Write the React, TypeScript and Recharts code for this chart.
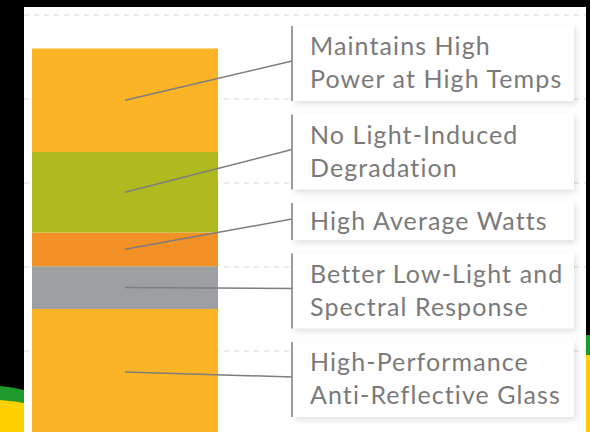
import { Bar, BarChart, CartesianGrid, XAxis, YAxis } from "recharts";

// bottom layer first (stack order)
const categories = ["Module"];
const layerKeys = ["glass", "spectral", "watts", "lid", "temps"];
const layerValues = [1.5, 0.51, 0.4, 0.96, 1.23];
const layerColors = ["#FBB425", "#9D9FA2", "#F29226", "#AEBA20", "#FBB425"];
const layerLabels = [
  ["High-Performance", "Anti-Reflective Glass"],
  ["Better Low-Light and", "Spectral Response"],
  ["High Average Watts"],
  ["No Light-Induced", "Degradation"],
  ["Maintains High", "Power at High Temps"],
];
const yTicks = [0, 1, 2, 3, 4, 5];

const data = categories.map((name) => {
  const row: Record<string, string | number> = { name };
  layerKeys.forEach((k, i) => (row[k] = layerValues[i]));
  return row;
});

const TEXT = "#7a7a7a";
const LINE = "#7d7d7d";
const BOX_X = 293;
const BOX_W = 281;
const LINE_H = 38;
const GAP = 12.5;

// callout boxes stack from the top of the panel downward
const boxTops: number[] = [];
{
  let top = 25;
  for (let i = layerKeys.length - 1; i >= 0; i--) {
    boxTops[i] = top;
    top += layerLabels[i].length * LINE_H + GAP;
  }
}

const Callout = ({ idx, ...props }: any) => {
  const vb = props.viewBox ?? props;
  const cx = vb.x + vb.width / 2;
  const cy = vb.y + vb.height / 2;
  const lines = layerLabels[idx];
  const top = boxTops[idx];
  const h = lines.length * LINE_H;
  const endY = top + h / 2 - 2;
  const firstBase = top + h / 2 - (lines.length - 1) * 17 + 9;
  return (
    <g>
      <rect
        x={BOX_X}
        y={top}
        width={BOX_W}
        height={h}
        fill="#fff"
        style={{ filter: "drop-shadow(2px 3px 3px rgba(0,0,0,0.12))" }}
      />
      <line x1={cx} y1={cy} x2={BOX_X - 1} y2={endY} stroke={LINE} strokeWidth={1.5} />
      <line x1={BOX_X - 1} y1={top + 1} x2={BOX_X - 1} y2={top + h} stroke={LINE} strokeWidth={1.5} />
      {lines.map((t, j) => (
        <text
          key={t}
          x={BOX_X + 17}
          y={firstBase + j * 33}
          fill={TEXT}
          fontSize={25}
          letterSpacing={1.1}
          fontFamily="Lato, sans-serif"
        >
          {t}
        </text>
      ))}
    </g>
  );
};

export default function App() {
  return (
    <div
      style={{
        position: "fixed",
        left: 0,
        top: 0,
        width: 590,
        height: 432,
        overflow: "hidden",
        background: "#000",
      }}
    >
      <svg width={590} height={432} style={{ position: "absolute", left: 0, top: 0 }}>
        <rect x={24} y={7} width={562} height={425} fill="#fff" />
        <path d="M0 386 Q12 387 24 390 L24 432 L0 432 Z" fill="#1f9a2a" />
        <path d="M0 400 Q12 401 24 403 L24 432 L0 432 Z" fill="#FFD000" />
        <rect x={586} y={335} width={4} height={20} fill="#1f9a2a" />
        <rect x={586} y={355} width={4} height={77} fill="#FFD000" />
      </svg>
      <div style={{ position: "absolute", left: 0, top: 0 }}>
        <BarChart
          width={590}
          height={440}
          data={data}
          margin={{ top: 15, right: 4, bottom: 5, left: 24 }}
          barCategoryGap={0}
        >
          <CartesianGrid horizontal vertical={false} stroke="#d6d6d6" strokeDasharray="5 5" />
          <XAxis dataKey="name" hide padding={{ left: 8, right: 368 }} />
          <YAxis hide domain={[0, 5]} ticks={yTicks} />
          {layerKeys.map((k, i) => (
            <Bar
              key={k}
              dataKey={k}
              stackId="a"
              fill={layerColors[i]}
              isAnimationActive={false}
              label={(p: any) => <Callout idx={i} {...p} />}
            />
          ))}
        </BarChart>
      </div>
    </div>
  );
}
